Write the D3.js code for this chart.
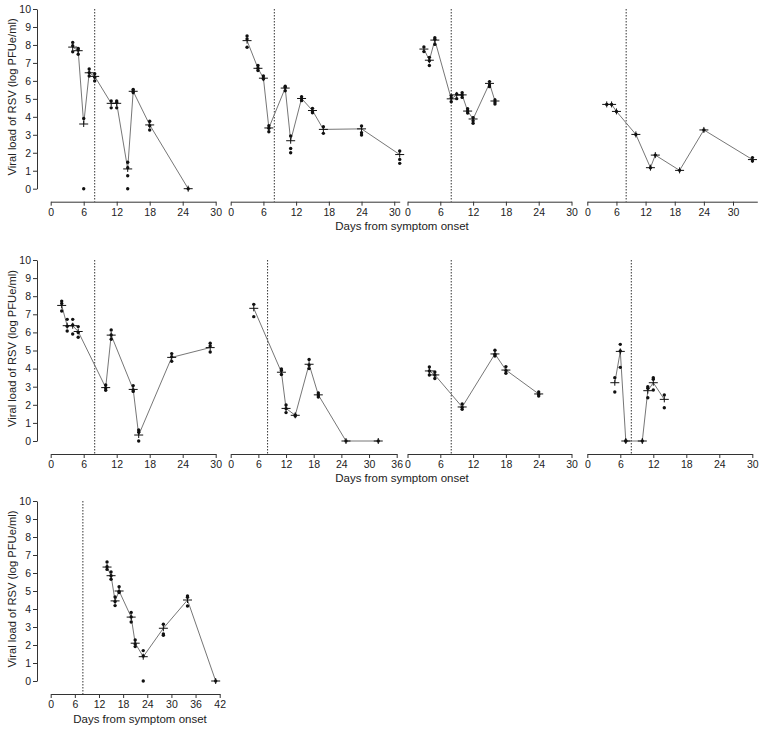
<!DOCTYPE html>
<html>
<head>
<meta charset="utf-8">
<script src="https://cdn.jsdelivr.net/npm/d3@7"></script>
<style>
  body { margin: 0; background: #fff; }
  svg { display: block; font-family: "Liberation Sans", Arial, sans-serif; }
  .tick text { fill: #222; }
</style>
</head>
<body>
<svg id="chart" width="763" height="730"></svg>
<script>
// ---------- DATA ----------
const p1Days = [4, 5, 6, 7, 8, 11, 12, 14, 15, 18, 25];
const p1Means = [7.88, 7.68, 3.6, 6.45, 6.25, 4.75, 4.75, 1.1, 5.42, 3.55, 0];
const p1Dots = [[8.14, 7.96, 7.62], [7.81, 7.72, 7.48], [3.91, 0], [6.66, 6.46, 6.27], [6.4, 6.2, 6.0], [4.88, 4.5], [4.88, 4.8, 4.5], [1.47, 1.17, 0.72, 0], [5.53, 5.44, 5.35], [3.75, 3.5, 3.27], [0]];

const p2Days = [3, 5, 6, 7, 10, 11, 13, 15, 17, 24, 31];
const p2Means = [8.24, 6.7, 6.15, 3.38, 5.6, 2.67, 5.02, 4.35, 3.3, 3.33, 1.9];
const p2Dots = [[8.5, 8.33, 7.87], [6.86, 6.7, 6.58], [6.27, 6.14, 6.1], [3.5, 3.36, 3.17], [5.7, 5.64, 5.45], [2.93, 2.24, 2.0], [5.12, 5.0, 4.9], [4.47, 4.32, 4.23], [3.45, 3.08], [3.49, 3.12, 2.99], [2.1, 1.63, 1.41]];

const p3Days = [3, 4, 5, 8, 9, 10, 11, 12, 15, 16];
const p3Means = [7.77, 7.15, 8.27, 5.0, 5.22, 5.22, 4.32, 3.88, 5.86, 4.88];
const p3Dots = [[7.89, 7.63], [7.31, 7.12, 6.86], [8.4, 8.31, 8.03], [5.18, 5.05, 4.84], [5.27, 5.01], [5.34, 5.21, 5.08], [4.45, 4.32, 4.21], [3.95, 3.78, 3.64], [5.96, 5.77, 5.68], [4.94, 4.82, 4.71]];

const p4Days = [4, 5, 6, 10, 13, 14, 19, 24, 34];
const p4Means = [4.69, 4.69, 4.3, 3.02, 1.17, 1.87, 1.02, 3.27, 1.62];
const p4Dots = [[4.69], [4.69], [4.3], [3.02], [1.17], [1.87], [1.02], [3.27], [1.73, 1.54]];

const p5Days = [2, 3, 4, 5, 10, 11, 15, 16, 22, 29];
const p5Means = [7.49, 6.37, 6.37, 6.05, 2.95, 5.85, 2.85, 0.33, 4.62, 5.16];
const p5Dots = [[7.73, 7.6, 7.18], [6.72, 6.34, 6.08], [6.72, 6.41, 5.91], [6.32, 6.0, 5.73], [3.09, 2.93, 2.8], [6.13, 5.86, 5.62], [3.06, 2.82, 2.74], [0.61, 0.48, 0], [4.83, 4.66, 4.4], [5.4, 5.25, 4.92]];

const p6Days = [5, 11, 12, 14, 17, 19, 25, 32];
const p6Means = [7.33, 3.8, 1.8, 1.42, 4.24, 2.55, 0, 0];
const p6Dots = [[7.55, 6.87], [3.98, 3.89, 3.67], [1.99, 1.79, 1.57], [1.44, 1.38], [4.5, 4.2, 4.0], [2.65, 2.54, 2.43], [0], [0]];

const p7Days = [4, 5, 10, 16, 18, 24];
const p7Means = [3.87, 3.65, 1.88, 4.81, 3.92, 2.6];
const p7Dots = [[4.09, 3.87, 3.65], [3.81, 3.65, 3.45], [2.05, 1.86, 1.75], [5.01, 4.79, 4.7], [4.11, 3.89, 3.74], [2.71, 2.58, 2.49]];

const p8Days = [5, 6, 7, 10, 11, 12, 14];
const p8Means = [3.22, 4.95, 0, 0, 2.78, 3.22, 2.3];
const p8Dots = [[3.5, 2.71], [5.34, 4.97, 4.07], [0, 0], [0], [3.0, 2.91, 2.39], [3.5, 3.41, 2.82], [2.54, 1.84]];

const p9Days = [14, 15, 16, 17, 20, 21, 23, 28, 34, 41];
const p9Means = [6.33, 5.85, 4.45, 5.0, 3.55, 2.1, 1.35, 2.93, 4.5, 0];
const p9Dots = [[6.61, 6.35, 6.2], [6.06, 5.85, 5.65], [4.67, 4.41, 4.19], [5.24, 4.98, 4.91], [3.81, 3.56, 3.28], [2.28, 2.06, 1.91], [1.69, 1.39, 0], [3.15, 2.61, 2.54], [4.72, 4.65, 4.17], [0]];

const dayMax = [30, 31, 30, 35, 30, 36, 30, 30, 42];
const treatmentDay = 8;
const yTicks = [0, 1, 2, 3, 4, 5, 6, 7, 8, 9, 10];
const yTitle = "Viral load of RSV (log PFUe/ml)";
const xTitle = "Days from symptom onset";

// ---------- LAYOUT ----------
const panels = [
  [p1Days, p1Means, p1Dots], [p2Days, p2Means, p2Dots], [p3Days, p3Means, p3Dots], [p4Days, p4Means, p4Dots],
  [p5Days, p5Means, p5Dots], [p6Days, p6Means, p6Dots], [p7Days, p7Means, p7Dots], [p8Days, p8Means, p8Dots],
  [p9Days, p9Means, p9Dots]
];
const colX0 = [50.7, 230.7, 407.5, 587.3];
const panelW = [165, 169, 164, 170, 165, 166, 164, 165, 169];
const rowTop = [9, 260, 501];
const rowZero = [188.7, 441, 681];
const rowAxis = [201.7, 454, 694];
const yAxisX = 37;
const titlePos = [[402, 230], [402, 482], [140, 723]];

const svg = d3.select("#chart");

panels.forEach((p, i) => {
  const [days, means, dots] = p;
  const row = Math.floor(i / 4), col = i % 4;
  const x0 = colX0[col];
  const x = d3.scaleLinear().domain([0, dayMax[i]]).range([x0, x0 + panelW[i]]);
  const y = d3.scaleLinear().domain([0, 10]).range([rowZero[row], rowTop[row]]);
  const axisY = rowAxis[row];
  const g = svg.append("g");

  // x axis
  const xa = g.append("g").attr("transform", `translate(0,${axisY})`)
    .call(d3.axisBottom(x).tickValues(d3.range(0, dayMax[i] + 0.01, 6)).tickSize(4).tickSizeOuter(0).tickPadding(3));
  xa.selectAll("text").attr("font-size", 10.5).attr("font-family", "Liberation Sans, Arial, sans-serif");
  xa.selectAll("path,line").attr("stroke", "#333");

  // y axis for first column
  if (col === 0) {
    const ya = g.append("g").attr("transform", `translate(${yAxisX},0)`)
      .call(d3.axisLeft(y).tickValues(yTicks).tickSize(4).tickSizeOuter(0).tickPadding(2));
    ya.selectAll("text").attr("font-size", 10.5).attr("font-family", "Liberation Sans, Arial, sans-serif");
    ya.selectAll("path,line").attr("stroke", "#333");
    g.append("text")
      .attr("transform", `translate(12,${(rowTop[row] + rowZero[row]) / 2 - 2}) rotate(-90)`)
      .attr("text-anchor", "middle").attr("dominant-baseline", "central")
      .attr("font-size", 11.2).attr("fill", "#222").text(yTitle);
  }

  // dotted treatment line
  g.append("line")
    .attr("x1", x(treatmentDay)).attr("x2", x(treatmentDay))
    .attr("y1", rowTop[row]).attr("y2", axisY)
    .attr("stroke", "#333").attr("stroke-width", 1).attr("stroke-dasharray", "1.5,1.5");

  // connecting line
  const line = d3.line().x((d, k) => x(days[k])).y(d => y(d));
  g.append("path").datum(means).attr("d", line)
    .attr("fill", "none").attr("stroke", "#666").attr("stroke-width", 0.9);

  // dots and mean markers
  days.forEach((d, k) => {
    dots[k].forEach(v => {
      g.append("circle").attr("cx", x(d)).attr("cy", y(v)).attr("r", 1.7).attr("fill", "#111");
    });
    g.append("line").attr("x1", x(d) - 4.5).attr("x2", x(d) + 4.5)
      .attr("y1", y(means[k])).attr("y2", y(means[k])).attr("stroke", "#111").attr("stroke-width", 1);
    g.append("line").attr("x1", x(d)).attr("x2", x(d))
      .attr("y1", y(means[k]) - 3).attr("y2", y(means[k]) + 3).attr("stroke", "#111").attr("stroke-width", 1);
  });
});

// x titles
titlePos.forEach(([cx, by]) => {
  svg.append("text").attr("x", cx).attr("y", by).attr("text-anchor", "middle")
    .attr("font-size", 11.5).attr("fill", "#222").text(xTitle);
});
</script>
</body>
</html>
